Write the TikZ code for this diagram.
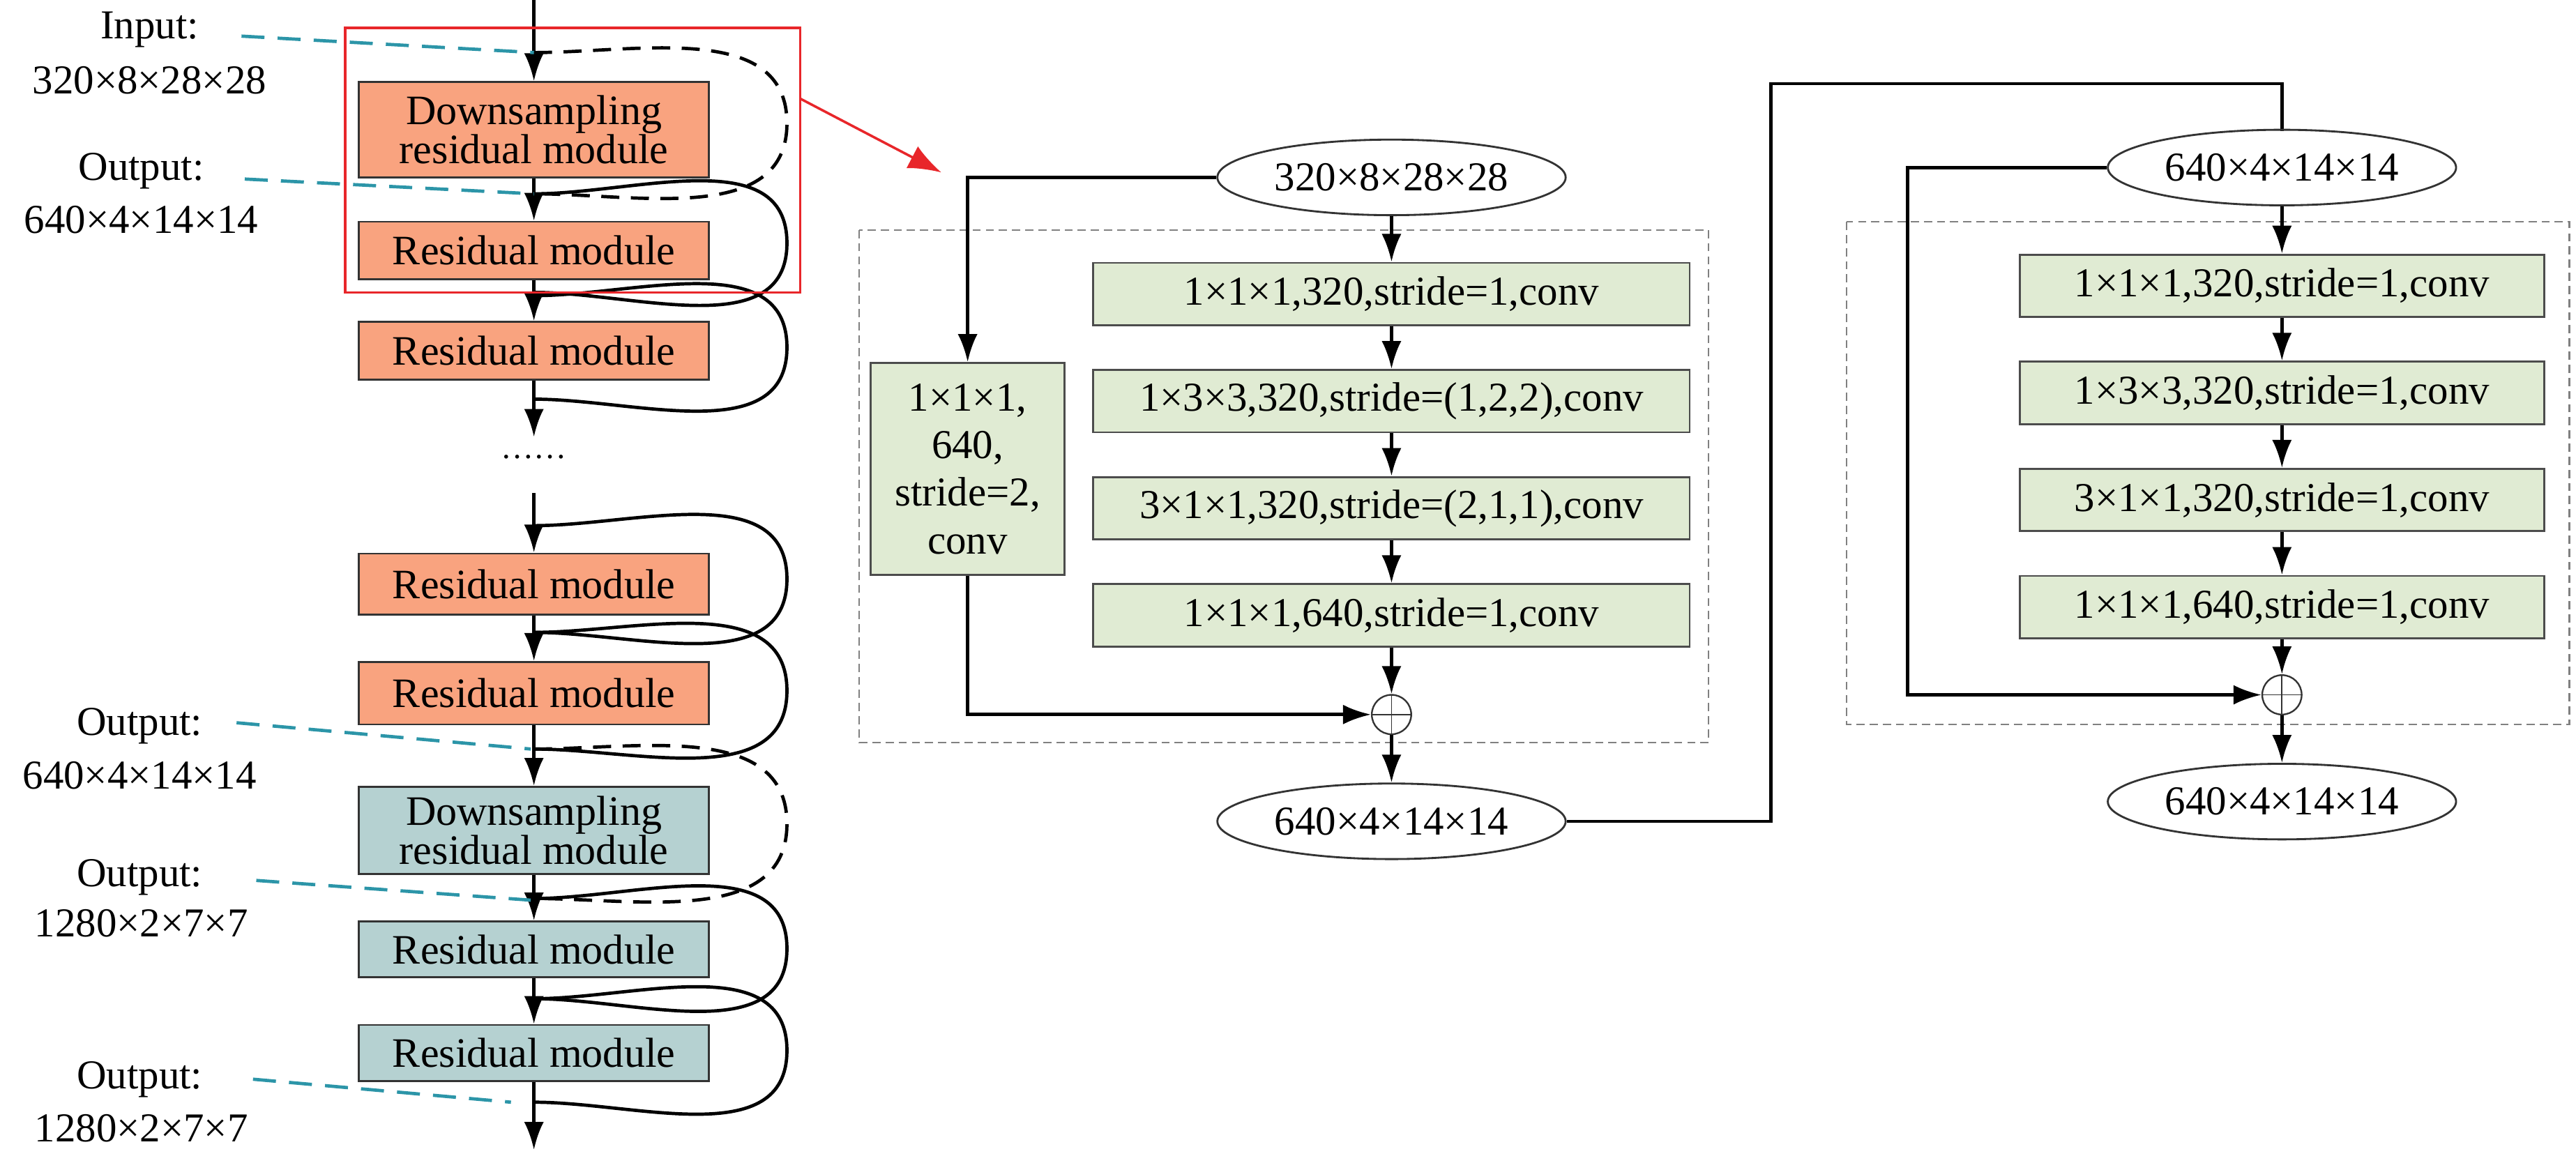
\documentclass[tikz,border=0pt]{standalone}
\usepackage{fontspec}
\setmainfont{Liberation Serif}
\usetikzlibrary{arrows.meta}
\usetikzlibrary{positioning}
\usetikzlibrary{shapes.geometric}
\definecolor{modorange}{HTML}{F9A37F}
\definecolor{modblue}{HTML}{B5D1D1}
\definecolor{convgreen}{HTML}{E0EBD3}
\definecolor{tealline}{HTML}{2C95A8}
\definecolor{redbox}{HTML}{E8262A}
\begin{document}
\begin{tikzpicture}[x=1pt,y=-1pt,->,>={Latex[length=17pt,width=12pt]},line width=2pt,
                    font=\fontsize{25}{27}\selectfont,node distance=26pt,
                    mod/.style={rectangle,draw=black!80,line width=1.2pt,minimum width=213pt,inner sep=0pt,align=center,font=\fontsize{25.5}{24}\selectfont},
                    conv/.style={rectangle,draw=black!70,line width=1.2pt,fill=convgreen,minimum height=38pt,inner sep=0pt},
                    shape node/.style={ellipse,draw=black!80,line width=1.2pt,minimum width=212pt,minimum height=46pt,inner sep=0pt},
                    sum/.style={circle,draw=black!80,line width=1pt,minimum size=24pt,inner sep=0pt,
                      path picture={\draw[-,line width=0.8pt] (path picture bounding box.north) -- (path picture bounding box.south)
                                      (path picture bounding box.west) -- (path picture bounding box.east);}},
                    skip/.style={-,line width=2pt},
                    long dash/.style={dash pattern=on 11pt off 7pt},
                    note/.style={-,tealline,line width=2pt,dash pattern=on 14pt off 8pt},
                    frame/.style={-,draw=black!50,line width=1pt,dash pattern=on 5pt off 3pt}]
  \useasboundingbox (0,0) rectangle (1568,708);

  % left column
  \coordinate (top) at (325,0);
  \node[mod,fill=modorange,minimum height=58pt] (M1) at (325,79) {Downsampling\\residual module};
  \node[mod,fill=modorange,minimum height=35pt] (M2) at (325,152.5) {Residual module};
  \node[mod,fill=modorange,minimum height=35pt] (M3) at (325,213.5) {Residual module};
  \coordinate (gapA) at (325,266);
  \node[-] (dots) at (325,278) {\fontsize{20}{20}\selectfont ……};
  \coordinate (gapB) at (325,300);
  \node[mod,fill=modorange,minimum height=37pt] (M4) at (325,355.5) {Residual module};
  \node[mod,fill=modorange,minimum height=38pt] (M5) at (325,422) {Residual module};
  \node[mod,fill=modblue,minimum height=53pt] (M6) at (325,505.5) {Downsampling\\residual module};
  \node[mod,fill=modblue,minimum height=34pt] (M7) at (325,578) {Residual module};
  \node[mod,fill=modblue,minimum height=34pt] (M8) at (325,641) {Residual module};
  \coordinate (bottom) at (325,700);

  \draw (top) -- (M1);
  \draw (M1) -- (M2);
  \draw (M2) -- (M3);
  \draw (M3) -- (gapA);
  \draw (gapB) -- (M4);
  \draw (M4) -- (M5);
  \draw (M5) -- (M6);
  \draw (M6) -- (M7);
  \draw (M7) -- (M8);
  \draw (M8) -- (bottom);

  % skip loops
  \foreach \a/\b/\s in {32/118/long dash,118/178/solid,180/243/solid,320/385/solid,385/456/solid,456/547/long dash,547/608/solid,608/671/solid}
    \draw[skip,\s] (325,\a) to[out=0,in=90] (479,{(\a+\b)/2}) to[out=-90,in=0] (325,\b);

  % shape labels
  \node[-] (inL) at (91,18) {Input:};
  \node[-] (inS) at (91,49) {320×8×28×28};
  \node[-] (o1L) at (86,104) {Output:};
  \node[-] (o1S) at (86,134) {640×4×14×14};
  \node[-] (o2L) at (85,442) {Output:};
  \node[-] (o2S) at (85,472) {640×4×14×14};
  \node[-] (o3L) at (85,534) {Output:};
  \node[-] (o3S) at (86,562) {1280×2×7×7};
  \node[-] (o4L) at (85,657) {Output:};
  \node[-] (o4S) at (86,687) {1280×2×7×7};
  \draw[note] (147,22) -- (325,32);
  \draw[note] (149,109) -- (325,118);
  \draw[note] (144,440) -- (323,456);
  \draw[note] (156,536) -- (323,548);
  \draw[note] (154,657) -- (311,671);

  % zoom marker
  \draw[-,redbox,line width=1.5pt] (210,17) rectangle (487,178);
  \coordinate (zoomA) at (487,60);
  \coordinate (zoomB) at (573,105);
  \draw[redbox,line width=1.5pt,>={Latex[length=20pt,width=15pt]}] (zoomA) -- (zoomB);

  % downsampling residual module
  \draw[frame] (523,140) rectangle (1040,452);
  \node[shape node] (inA) at (847,108) {320×8×28×28};
  \node[conv,minimum width=363pt] (A1) at (847,179) {1×1×1,320,stride=1,conv};
  \node[conv,minimum width=363pt] (A2) [below=of A1] {1×3×3,320,stride=(1,2,2),conv};
  \node[conv,minimum width=363pt] (A3) [below=of A2] {3×1×1,320,stride=(2,1,1),conv};
  \node[conv,minimum width=363pt] (A4) [below=of A3] {1×1×1,640,stride=1,conv};
  \node[conv,minimum width=118pt,minimum height=129pt,align=center,font=\fontsize{25}{29}\selectfont] (AS) at (589,285.5) {1×1×1,\\640,\\stride=2,\\conv};
  \node[sum] (sumA) at (847,435) {};
  \node[shape node] (outA) at (847,500) {640×4×14×14};
  \draw (inA) -- (A1);
  \draw (A1) -- (A2);
  \draw (A2) -- (A3);
  \draw (A3) -- (A4);
  \draw (A4) -- (sumA);
  \draw (sumA) -- (outA);
  \draw (inA.west) -| (AS.north);
  \draw (AS.south) |- (sumA.west);

  % link
  \coordinate (turn) at (1078,51);
  \draw[-] (outA.east) -| (turn) -| (1389,80);

  % residual module
  \draw[frame] (1124,135) rectangle (1564,441);
  \node[shape node] (inB) at (1389,102) {640×4×14×14};
  \node[conv,minimum width=319pt] (B1) at (1389,174) {1×1×1,320,stride=1,conv};
  \node[conv,minimum width=319pt] (B2) [below=of B1] {1×3×3,320,stride=1,conv};
  \node[conv,minimum width=319pt] (B3) [below=of B2] {3×1×1,320,stride=1,conv};
  \node[conv,minimum width=319pt] (B4) [below=of B3] {1×1×1,640,stride=1,conv};
  \node[sum] (sumB) at (1389,423) {};
  \node[shape node] (outB) at (1389,488) {640×4×14×14};
  \draw (inB) -- (B1);
  \draw (B1) -- (B2);
  \draw (B2) -- (B3);
  \draw (B3) -- (B4);
  \draw (B4) -- (sumB);
  \draw (sumB) -- (outB);
  \draw (inB.west) -| (1161,300) |- (sumB.west);
\end{tikzpicture}
\end{document}
